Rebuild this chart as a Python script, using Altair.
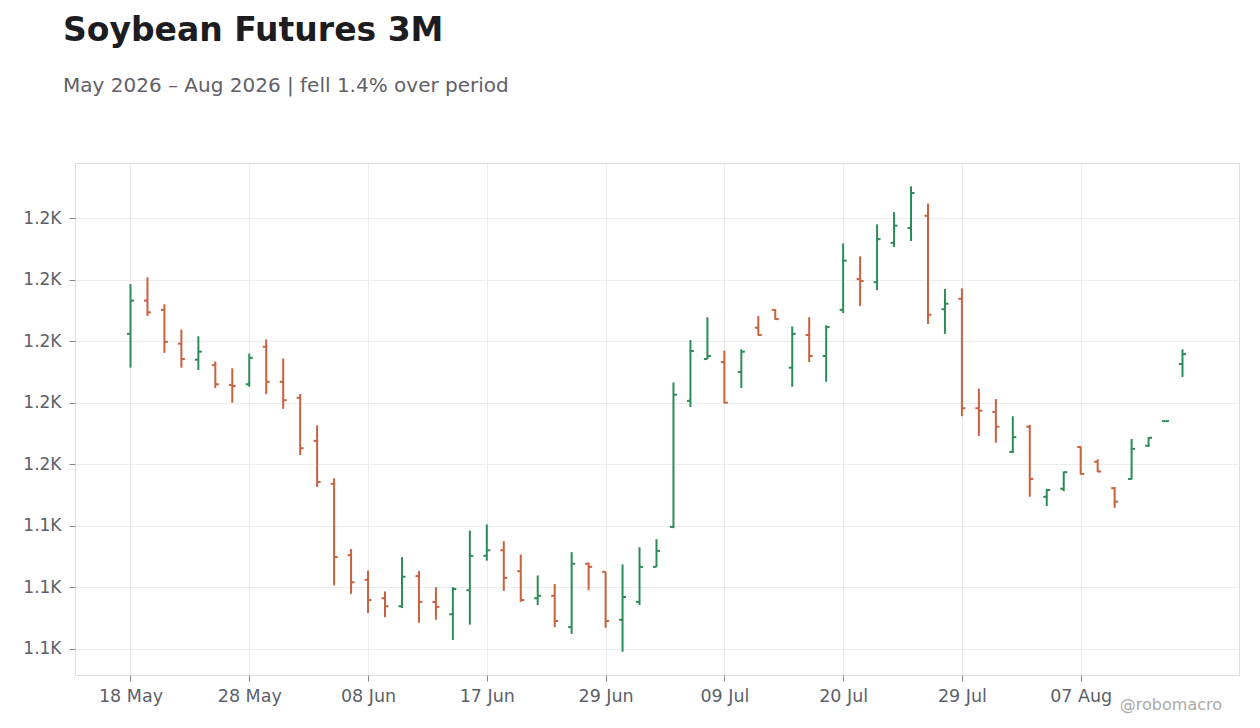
import json
import altair as alt
import pandas as pd

# ---- data ----
dates = [
    "18 May", "19 May", "20 May", "21 May", "22 May", "26 May", "27 May", "28 May", "29 May",
    "01 Jun", "02 Jun", "03 Jun", "04 Jun", "05 Jun", "08 Jun", "09 Jun", "10 Jun", "11 Jun",
    "12 Jun", "15 Jun", "16 Jun", "17 Jun", "18 Jun", "22 Jun", "23 Jun", "24 Jun", "25 Jun",
    "26 Jun", "29 Jun", "30 Jun", "01 Jul", "02 Jul", "06 Jul", "07 Jul", "08 Jul", "09 Jul",
    "10 Jul", "13 Jul", "14 Jul", "15 Jul", "16 Jul", "17 Jul", "20 Jul", "21 Jul", "22 Jul",
    "23 Jul", "24 Jul", "27 Jul", "28 Jul", "29 Jul", "30 Jul", "31 Jul", "03 Aug", "04 Aug",
    "05 Aug", "06 Aug", "07 Aug", "10 Aug", "11 Aug", "12 Aug", "13 Aug", "14 Aug", "17 Aug",
]
opens = [
    1171.2, 1176.6, 1175.1, 1169.6, 1167.0, 1166.1, 1162.9, 1163.0, 1169.1, 1163.4,
    1160.8, 1153.8, 1146.8, 1135.2, 1131.2, 1128.2, 1126.9, 1131.8, 1127.6, 1125.6,
    1129.5, 1135.1, 1136.0, 1132.6, 1128.2, 1128.6, 1123.5, 1133.8, 1132.5, 1124.7,
    1127.6, 1133.3, 1139.8, 1160.3, 1167.1, 1166.6, 1165.0, 1172.2, 1175.1, 1165.7,
    1171.0, 1167.6, 1175.1, 1180.1, 1179.6, 1186.0, 1188.4, 1190.4, 1175.2, 1176.9,
    1159.1, 1158.5, 1152.0, 1156.1, 1144.7, 1146.0, 1152.8, 1150.4, 1146.1, 1147.6,
    1153.0, 1157.0, 1166.3,
]
highs = [
    1179.3, 1180.4, 1176.0, 1171.9, 1170.8, 1166.7, 1165.6, 1168.0, 1170.3, 1167.2,
    1161.4, 1156.3, 1147.7, 1136.2, 1132.7, 1129.3, 1134.9, 1132.6, 1130.0, 1130.0,
    1139.2, 1140.2, 1137.5, 1135.3, 1131.9, 1130.5, 1135.7, 1134.0, 1132.5, 1133.7,
    1136.5, 1137.8, 1163.3, 1170.2, 1173.9, 1168.5, 1168.7, 1174.1, 1175.2, 1172.4,
    1173.9, 1172.6, 1185.9, 1183.8, 1189.0, 1191.0, 1195.2, 1192.4, 1178.5, 1178.6,
    1162.3, 1160.6, 1157.8, 1156.4, 1146.0, 1148.8, 1152.9, 1150.8, 1146.3, 1154.1,
    1154.4, 1157.0, 1168.7,
]
lows = [
    1165.7, 1174.1, 1168.1, 1165.7, 1165.3, 1162.4, 1160.0, 1162.6, 1161.4, 1159.0,
    1151.5, 1146.3, 1130.3, 1128.9, 1125.8, 1125.1, 1126.6, 1124.2, 1124.7, 1121.4,
    1123.9, 1134.3, 1129.4, 1127.6, 1127.1, 1123.5, 1122.4, 1129.5, 1123.4, 1119.5,
    1127.1, 1133.3, 1139.6, 1159.3, 1167.1, 1159.9, 1162.4, 1170.9, 1173.5, 1162.6,
    1166.6, 1163.4, 1174.6, 1175.7, 1178.3, 1185.3, 1186.3, 1172.8, 1171.2, 1157.8,
    1154.6, 1153.5, 1151.8, 1144.7, 1143.2, 1145.6, 1148.3, 1148.7, 1142.9, 1147.5,
    1152.8, 1157.0, 1164.2,
]
closes = [
    1176.6, 1174.7, 1169.9, 1167.1, 1168.3, 1163.0, 1162.7, 1167.3, 1163.4, 1160.4,
    1152.6, 1147.1, 1134.9, 1130.8, 1127.9, 1126.9, 1131.7, 1127.6, 1126.8, 1129.7,
    1135.1, 1136.0, 1131.5, 1127.9, 1128.6, 1124.5, 1133.8, 1133.3, 1124.5, 1128.4,
    1133.3, 1135.9, 1161.3, 1168.4, 1167.6, 1160.0, 1168.3, 1171.0, 1173.6, 1171.2,
    1167.6, 1172.3, 1183.1, 1179.8, 1186.6, 1188.8, 1194.1, 1174.3, 1176.1, 1159.1,
    1158.7, 1156.1, 1154.4, 1147.6, 1145.8, 1148.7, 1148.4, 1148.8, 1143.9, 1152.5,
    1154.3, 1157.0, 1167.9,
]
x_ticks = ["18 May", "28 May", "08 Jun", "17 Jun", "29 Jun", "09 Jul", "20 Jul", "29 Jul", "07 Aug"]
y_ticks = [1120, 1130, 1140, 1150, 1160, 1170, 1180, 1190]

UP = "#2e8b57"
DOWN = "#c8613f"
FONT = "DejaVu Sans"

df = pd.DataFrame({
    "idx": list(range(len(dates))),
    "date": dates, "open": opens, "high": highs, "low": lows, "close": closes,
})
df["dir"] = ["up" if c >= o else "down" for o, c in zip(opens, closes)]

lo, hi = min(lows), max(highs)
pad = 0.05 * (hi - lo)
y_scale = alt.Scale(domain=[lo - pad, hi + pad], nice=False, zero=False)
x_scale = alt.Scale(domain=[-3.27, len(dates) - 1 + 3.33], nice=False, zero=False)

x_axis = alt.Axis(
    values=[dates.index(t) for t in x_ticks],
    labelExpr=json.dumps(dates) + "[datum.value]",
    labelAngle=0, title=None, domain=False,
    tickSize=6, tickColor="#888888", labelPadding=6,
    labelFont=FONT, labelFontSize=17.5, labelColor="#5c5f6a",
    grid=True, gridColor="#ececec", gridWidth=1,
)
y_axis = alt.Axis(
    values=y_ticks, title=None, domain=False,
    labelExpr="replace(format(datum.value, '.2s'), 'k', 'K')",
    tickSize=6, tickColor="#888888", labelPadding=8,
    labelFont=FONT, labelFontSize=17, labelColor="#5c5f6a",
    grid=True, gridColor="#ececec", gridWidth=1,
)
color = alt.Color("dir:N", scale=alt.Scale(domain=["up", "down"], range=[UP, DOWN]), legend=None)

base = alt.Chart(df)
wicks = base.mark_rule(strokeWidth=2).encode(
    x=alt.X("idx:Q", scale=x_scale, axis=x_axis),
    y=alt.Y("low:Q", scale=y_scale, axis=y_axis),
    y2="high:Q",
    color=color,
)
open_ticks = base.mark_tick(orient="horizontal", size=3.5, thickness=2, xOffset=-1.75, opacity=1).encode(
    x=alt.X("idx:Q"),
    y=alt.Y("open:Q"),
    color=color,
)
close_ticks = base.mark_tick(orient="horizontal", size=3.5, thickness=2, xOffset=1.75, opacity=1).encode(
    x=alt.X("idx:Q"),
    y=alt.Y("close:Q"),
    color=color,
)
watermark = alt.Chart(pd.DataFrame({"t": ["@robomacro"]})).mark_text(
    font=FONT, fontSize=16, color="#aaaaaa", align="right", baseline="alphabetic"
).encode(x=alt.value(1147), y=alt.value(547), text="t:N")

chart = alt.layer(wicks, open_ticks, close_ticks, watermark).properties(
    width=1164,
    height=512,
    padding={"left": 67, "top": 155, "right": 12, "bottom": 50},
    autosize=alt.AutoSizeParams(type="none"),
    background="white",
    title=alt.TitleParams(
        text="Soybean Futures 3M",
        subtitle="May 2026 – Aug 2026 | fell 1.4% over period",
        anchor="start", frame="group", dx=-12, offset=67,
        font=FONT, fontSize=33, fontWeight="bold", color="#1c1c21",
        subtitleFont=FONT, subtitleFontSize=20, subtitleColor="#5f6068",
        subtitlePadding=28,
    ),
).configure_view(stroke="#dddddd", strokeWidth=1)

chart.save("out.html", embed_options={"renderer": "svg", "actions": False})
